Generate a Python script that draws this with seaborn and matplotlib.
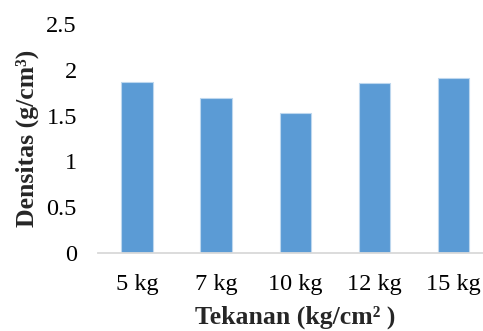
import matplotlib
matplotlib.use("Agg")
import matplotlib.pyplot as plt
import seaborn as sns
import pandas as pd

# Données
tekanan = ["5 kg", "7 kg", "10 kg", "12 kg", "15 kg"]
densitas = [1.87, 1.69, 1.525, 1.86, 1.91]
y_ticks = [0, 0.5, 1, 1.5, 2, 2.5]
y_tick_labels = ["0", "0.5", "1", "1.5", "2", "2.5"]

df = pd.DataFrame({"tekanan": tekanan, "densitas": densitas})

sns.set_theme(style="white")
plt.rcParams["font.family"] = ["Liberation Serif", "DejaVu Serif"]

fig = plt.figure(figsize=(4.83, 3.31), dpi=100)
ax = fig.add_axes([97.7 / 483, 78 / 331, 395.3 / 483, 229 / 331])

sns.barplot(data=df, x="tekanan", y="densitas", color="#5B9BD5",
            saturation=1, width=0.4, edgecolor="#BDD7EE", linewidth=0.8, ax=ax)

ax.set_xlim(-0.5, 4.5)
ax.set_ylim(0, 2.5)
ax.set_yticks(y_ticks)
ax.set_yticklabels(y_tick_labels)

for side in ["top", "right", "left"]:
    ax.spines[side].set_visible(False)
ax.spines["bottom"].set_color("#D9D9D9")
ax.spines["bottom"].set_linewidth(1.3)

ax.tick_params(axis="both", length=0, labelsize=17.5, colors="black")
ax.tick_params(axis="x", pad=15)
ax.tick_params(axis="y", pad=15)

ax.set_xlabel("Tekanan (kg/cm² )", fontsize=18.5, fontweight="bold", labelpad=8)
ax.set_ylabel("Densitas (g/cm³)", fontsize=18.5, fontweight="bold", labelpad=5)

fig.savefig("out.png", dpi=100)
